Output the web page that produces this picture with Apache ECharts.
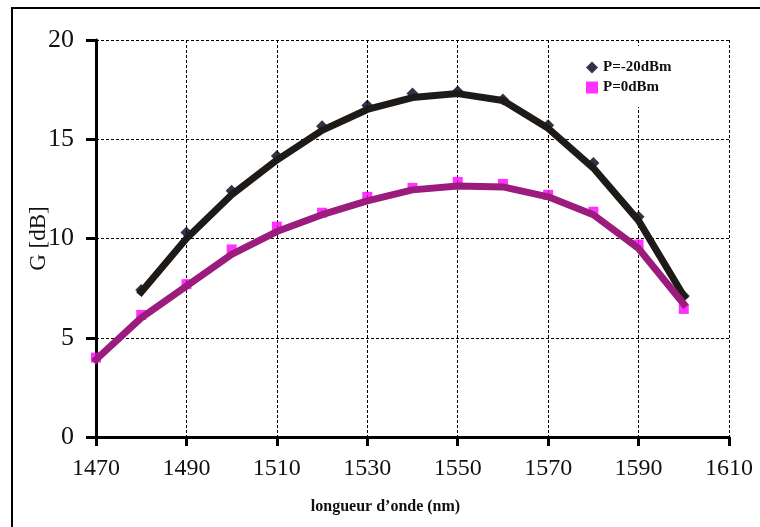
<!DOCTYPE html>
<html>
<head>
<meta charset="utf-8">
<script src="https://cdn.jsdelivr.net/npm/echarts@6/dist/echarts.min.js"></script>
<style>
html,body{margin:0;padding:0;background:#fff;}
#chart{width:760px;height:527px;}
</style>
</head>
<body>
<div id="chart"></div>
<script>
// Wavelengths (nm)
const wlHigh = [1480,1490,1500,1510,1520,1530,1540,1550,1560,1570,1580,1590,1600];
const wlLow  = [1470,1480,1490,1500,1510,1520,1530,1540,1550,1560,1570,1580,1590,1600];
// Measured gain (markers)
const gainM20 = [7.4,10.3,12.4,14.15,15.65,16.7,17.3,17.4,17.0,15.7,13.8,11.1,7.1];
const gain0   = [4.0,6.15,7.7,9.45,10.6,11.3,12.1,12.55,12.85,12.75,12.2,11.35,9.7,6.45];
// Fitted curves (thick lines)
const fitM20 = [7.3,10.0,12.2,13.95,15.45,16.5,17.1,17.3,16.95,15.55,13.55,10.9,7.1];
const fit0   = [3.9,6.0,7.6,9.2,10.35,11.2,11.9,12.45,12.65,12.6,12.1,11.2,9.5,6.7];
const xTicks = [1470,1490,1510,1530,1550,1570,1590,1610];
const yTicks = [0,5,10,15,20];

const zip = (xs, ys) => xs.map((x, i) => [x, ys[i]]);
const serif = 'Liberation Serif';

const chart = echarts.init(document.getElementById('chart'), null, {renderer: 'canvas'});
chart.setOption({
  animation: false,
  backgroundColor: '#fff',
  grid: {left: 96, right: 31, top: 40, bottom: 90, containLabel: false},
  xAxis: {
    type: 'value', min: xTicks[0], max: xTicks[xTicks.length - 1], interval: 20,
    name: 'longueur d\u2019onde (nm)', nameLocation: 'middle', nameGap: 62,
    nameTextStyle: {fontFamily: serif, fontSize: 16, fontWeight: 'bold', color: '#111', padding: [0, 54, 0, 0]},
    axisLine: {onZero: false, lineStyle: {color: '#000', width: 3}},
    axisTick: {show: true, length: 9, lineStyle: {color: '#000', width: 3}},
    axisLabel: {fontFamily: serif, fontSize: 24, color: '#111', margin: 20, formatter: v => String(v)},
    splitLine: {show: true, lineStyle: {color: '#000', width: 1, type: [3, 2]}}
  },
  yAxis: {
    type: 'value', min: yTicks[0], max: yTicks[yTicks.length - 1], interval: 5,
    name: 'G [dB]', nameLocation: 'middle', nameGap: 46, nameRotate: 90, nameMoveOverlap: false,
    nameTextStyle: {fontFamily: serif, fontSize: 23, color: '#111'},
    axisLine: {onZero: false, lineStyle: {color: '#000', width: 3}},
    axisTick: {show: true, length: 10, lineStyle: {color: '#000', width: 3}},
    axisLabel: {fontFamily: serif, fontSize: 26, color: '#111', margin: 22, formatter: v => String(v)},
    splitLine: {show: true, lineStyle: {color: '#000', width: 1, type: [3, 2]}}
  },
  legend: {
    orient: 'vertical', left: 576, top: 46,
    backgroundColor: '#fff', padding: [14, 30, 12, 10], itemGap: 5,
    itemWidth: 12, itemHeight: 12,
    textStyle: {fontFamily: serif, fontSize: 15, fontWeight: 'bold', color: '#111'},
    data: [{name: 'P=-20dBm', icon: 'diamond'}, {name: 'P=0dBm', icon: 'rect'}]
  },
  graphic: [{
    type: 'rect', shape: {x: 12, y: 8, width: 800, height: 600},
    style: {fill: 'none', stroke: '#000', lineWidth: 2}, z: 100
  }],
  series: [
    {name: 'P=-20dBm', type: 'scatter', data: zip(wlHigh, gainM20), symbol: 'diamond', symbolSize: 12,
     itemStyle: {color: '#00001a'}, z: 2},
    {name: 'P=0dBm', type: 'scatter', data: zip(wlLow, gain0), symbol: 'rect', symbolSize: 10,
     itemStyle: {color: '#ff00ff'}, z: 2},
    {name: 'fit-20', type: 'line', data: zip(wlHigh, fitM20), showSymbol: false, smooth: false,
     lineStyle: {color: '#1e1a17', width: 7, cap: 'square', join: 'round'}, z: 3},
    {name: 'fit0', type: 'line', data: zip(wlLow, fit0), showSymbol: false, smooth: false,
     lineStyle: {color: '#9c1c7e', width: 7, cap: 'square', join: 'round'}, z: 3}
  ]
});
</script>
</body>
</html>
